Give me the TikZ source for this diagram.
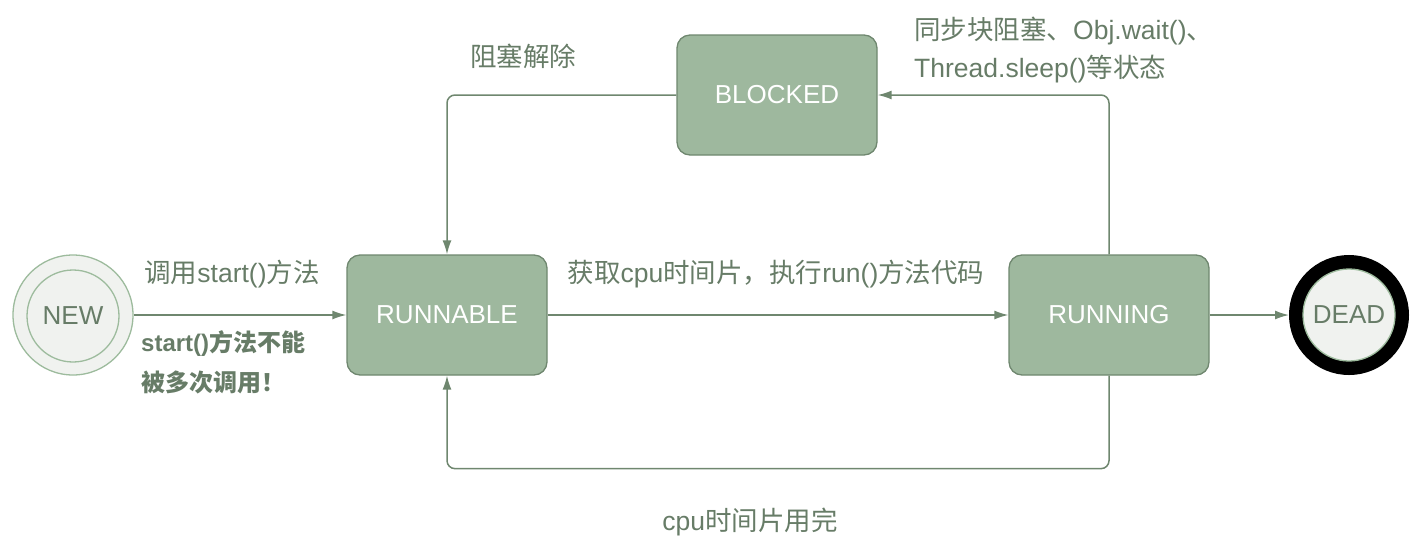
\documentclass[tikz,border=0pt]{standalone}
\usepackage{fontspec}
\setmainfont{Liberation Sans}
\newfontfamily\cjk{Noto Sans CJK SC}
\newcommand{\zh}[1]{{\cjk #1}}
\usetikzlibrary{arrows.meta}
\definecolor{boxfill}{HTML}{9EB89E}
\definecolor{boxline}{HTML}{6F876F}
\definecolor{txt}{HTML}{677C67}
\definecolor{circfill}{HTML}{F0F2EF}
\definecolor{circline}{HTML}{9DBB9D}
\begin{document}
\begin{tikzpicture}[x=1pt,y=-1pt,
  state/.style={draw=boxline,fill=boxfill,line width=1.3pt,rounded corners=13pt,minimum width=200pt,minimum height=120pt,text=white,font=\fontsize{26}{30}\selectfont},
  conn/.style={draw=boxline,line width=1.5pt,rounded corners=8pt,-{Latex[length=14pt,width=9pt]}},
  lbl/.style={text=txt,font=\fontsize{26.5}{30}\selectfont,inner sep=0pt},
  blbl/.style={lbl,anchor=west,font=\bfseries\fontsize{24}{30}\selectfont}]
\useasboundingbox (0,0) rectangle (1422,558);
% NEW
\node[circle,draw=circline,fill=circfill,line width=1.3pt,minimum size=120pt] (newo) at (73,315) {};
\node[circle,draw=circline,fill=circfill,line width=1.3pt,minimum size=92pt,text=txt,font=\fontsize{26}{30}\selectfont] (new) at (73,316) {NEW};
% rects
\node[state] (runnable) at (447,315) {RUNNABLE};
\node[state] (blocked) at (777,95) {BLOCKED};
\node[state] (running) at (1109,315) {RUNNING};
% DEAD
\node[circle,draw=black,fill=circfill,line width=14pt,minimum size=106pt] (deado) at (1349,315) {};
\node[circle,draw=circline,fill=circfill,line width=1.3pt,minimum size=92pt,text=txt,font=\fontsize{26}{30}\selectfont] (dead) at (1349,315) {DEAD};
% connectors
\draw[conn] (newo.east) -- (runnable.west);
\draw[conn] (runnable.east) -- (running.west);
\draw[conn] (running.east) -- (deado.west);
\draw[conn] (running.north) |- (blocked.east);
\draw[conn] (blocked.west) -| (runnable.north);
\draw[conn] (running.south) -- ++(0,93) -| (runnable.south);
% labels
\node[lbl] (l1) at (232,274) {\zh{调用}start()\zh{方法}};
\node[blbl] (l2) at (141,344) {start()\zh{方法不能}};
\node[blbl] (l3) at (141,382) {\zh{被多次调用！}};
\node[lbl] (l4) at (776,274) {\zh{获取}cpu\zh{时间片，执行}run()\zh{方法代码}};
\node[lbl] (l5) at (523,56) {\zh{阻塞解除}};
\node[lbl,anchor=west] (l6) at (914,31) {\zh{同步块阻塞、}Obj.wait()\zh{、}};
\node[lbl,anchor=west] (l7) at (914,69) {Thread.sleep()\zh{等状态}};
\node[lbl] (l8) at (750,522) {cpu\zh{时间片用完}};
\end{tikzpicture}
\end{document}
